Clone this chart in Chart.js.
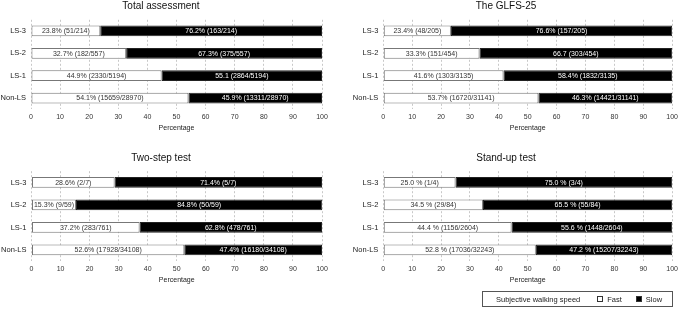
<!DOCTYPE html>
<html>
<head>
<meta charset="utf-8">
<script src="https://cdn.jsdelivr.net/npm/chart.js@4.4.1/dist/chart.umd.min.js"></script>
<style>
  html, body { margin: 0; padding: 0; background: #fff; }
  body { width: 685px; height: 312px; position: relative; overflow: hidden;
         font-family: "Liberation Sans", Arial, sans-serif; }
  canvas { position: absolute; }
  #legend { position: absolute; left: 482px; top: 291px; width: 189px; height: 14px;
            border: 1px solid #555; font-size: 7.5px; color: #222;
            display: flex; align-items: center; }
  #legend .sw { display: inline-block; width: 6px; height: 6px; border: 1px solid #333;
                box-sizing: border-box; margin-right: 4px; }
</style>
</head>
<body>
<canvas id="c1" width="340" height="140" style="left:0;top:0"></canvas>
<canvas id="c2" width="344" height="140" style="left:338px;top:0"></canvas>
<canvas id="c3" width="340" height="152" style="left:0;top:140px"></canvas>
<canvas id="c4" width="344" height="152" style="left:338px;top:140px"></canvas>
<div id="legend">
  <span style="margin-left:13px">Subjective walking speed</span>
  <span class="sw" style="margin-left:17px;background:#fff"></span><span>Fast</span>
  <span class="sw" style="margin-left:14px;background:#000"></span><span>Slow</span>
</div>
<script>
// ── DATA ──
const categories = ["LS-3", "LS-2", "LS-1", "Non-LS"];
const xTicks = [0, 10, 20, 30, 40, 50, 60, 70, 80, 90, 100];

const totalFast = [23.8, 32.7, 44.9, 54.1];
const totalSlow = [76.2, 67.3, 55.1, 45.9];
const totalFastLabels = ["23.8% (51/214)", "32.7% (182/557)", "44.9% (2330/5194)", "54.1% (15659/28970)"];
const totalSlowLabels = ["76.2% (163/214)", "67.3% (375/557)", "55.1 (2864/5194)", "45.9% (13311/28970)"];

const glfsFast = [23.4, 33.3, 41.6, 53.7];
const glfsSlow = [76.6, 66.7, 58.4, 46.3];
const glfsFastLabels = ["23.4% (48/205)", "33.3% (151/454)", "41.6% (1303/3135)", "53.7% (16720/31141)"];
const glfsSlowLabels = ["76.6% (157/205)", "66.7 (303/454)", "58.4% (1832/3135)", "46.3% (14421/31141)"];

const twoStepFast = [28.6, 15.3, 37.2, 52.6];
const twoStepSlow = [71.4, 84.8, 62.8, 47.4];
const twoStepFastLabels = ["28.6% (2/7)", "15.3% (9/59)", "37.2% (283/761)", "52.6% (17928/34108)"];
const twoStepSlowLabels = ["71.4% (5/7)", "84.8% (50/59)", "62.8% (478/761)", "47.4% (16180/34108)"];

const standUpFast = [25.0, 34.5, 44.4, 52.8];
const standUpSlow = [75.0, 65.5, 55.6, 47.2];
const standUpFastLabels = ["25.0 % (1/4)", "34.5 % (29/84)", "44.4 % (1156/2604)", "52.8 % (17036/32243)"];
const standUpSlowLabels = ["75.0 % (3/4)", "65.5 % (55/84)", "55.6 % (1448/2604)", "47.2 % (15207/32243)"];

const FONT = "'Liberation Sans', Arial, sans-serif";

// ── bar text, centred inside each segment ──
const segmentLabels = {
  id: "segmentLabels",
  afterDatasetsDraw(chart) {
    const ctx = chart.ctx;
    ctx.save();
    ctx.font = "7px " + FONT;
    ctx.textAlign = "center";
    ctx.textBaseline = "middle";
    chart.data.datasets.forEach((ds, i) => {
      chart.getDatasetMeta(i).data.forEach((bar, j) => {
        ctx.fillStyle = ds.textColor;
        ctx.fillText(ds.texts[j], (bar.x + bar.base) / 2, bar.y + 0.5);
      });
    });
    ctx.restore();
  }
};

function makePanel(id, title, fast, slow, fastLabels, slowLabels, g) {
  return new Chart(document.getElementById(id), {
    type: "bar",
    data: {
      labels: categories,
      datasets: [
        { label: "Fast", data: fast, texts: fastLabels, textColor: "#333",
          backgroundColor: "#fff", borderColor: "#777", borderWidth: 1, borderSkipped: false },
        { label: "Slow", data: slow, texts: slowLabels, textColor: "#fff",
          backgroundColor: "#000", borderColor: "#222", borderWidth: 1, borderSkipped: false }
      ]
    },
    options: {
      indexAxis: "y",
      responsive: false,
      animation: false,
      devicePixelRatio: 1,
      layout: { padding: { left: 0, right: g.padRight, top: 0, bottom: 0 } },
      datasets: { bar: { categoryPercentage: 1, barPercentage: 0.48 } },
      plugins: {
        legend: { display: false },
        tooltip: { enabled: false },
        title: {
          display: true, text: title, color: "#111",
          font: { family: FONT, size: 10, weight: "normal" },
          padding: { top: g.titleTop, bottom: g.titleBottom }
        }
      },
      scales: {
        x: {
          stacked: true, min: 0, max: 100,
          afterBuildTicks: s => { s.ticks = xTicks.map(v => ({ value: v })); },
          afterFit: s => { s.height = g.axisH; },
          grid: { color: "#c8c8c8", drawTicks: false },
          border: { display: false, dash: [2, 2] },
          ticks: { color: "#333", font: { family: FONT, size: 7 }, padding: 4, maxRotation: 0 },
          title: { display: true, text: "Percentage", color: "#222",
                   font: { family: FONT, size: 7 }, padding: { top: 0, bottom: 7.5 } }
        },
        y: {
          stacked: true,
          afterFit: s => { s.width = g.caLeft; },
          grid: { display: false, drawTicks: false },
          border: { display: false },
          ticks: { color: "#222", font: { family: FONT, size: 7.5 }, padding: 5 }
        }
      }
    },
    plugins: [segmentLabels]
  });
}

const topRow = { padRight: 18, caLeft: 31, titleTop: 0.5, titleBottom: 7.3, axisH: 30.8 };
const bottomRow = { padRight: 18, caLeft: 31.5, titleTop: 12.5, titleBottom: 6.7, axisH: 30.8 };

makePanel("c1", "Total assessment", totalFast, totalSlow, totalFastLabels, totalSlowLabels, topRow);
makePanel("c2", "The GLFS-25", glfsFast, glfsSlow, glfsFastLabels, glfsSlowLabels,
          { ...topRow, caLeft: 45.3, padRight: 8 });
makePanel("c3", "Two-step test", twoStepFast, twoStepSlow, twoStepFastLabels, twoStepSlowLabels, bottomRow);
makePanel("c4", "Stand-up test", standUpFast, standUpSlow, standUpFastLabels, standUpSlowLabels,
          { ...bottomRow, caLeft: 45.3, padRight: 8 });
</script>
</body>
</html>
